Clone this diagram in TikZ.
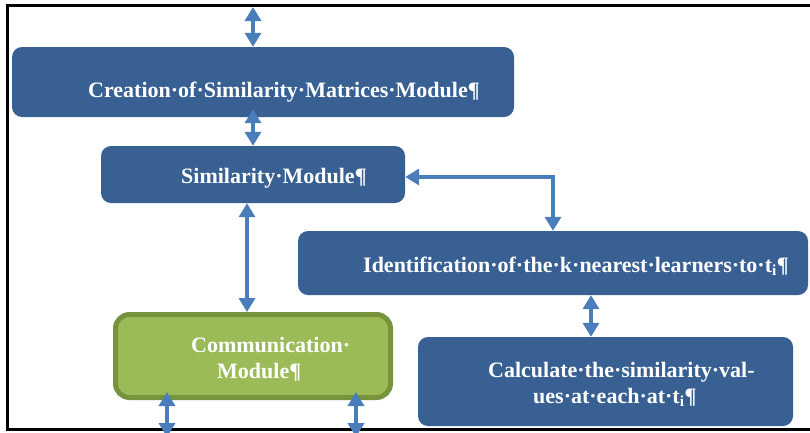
\documentclass[tikz,border=0pt]{standalone}
\usepackage{fontspec}
\setmainfont{Liberation Serif}
\usetikzlibrary{arrows.meta}

\definecolor{modblue}{RGB}{56,96,146}
\definecolor{arrblue}{RGB}{74,126,187}
\definecolor{modgreen}{RGB}{155,187,89}
\definecolor{modgreenline}{RGB}{119,147,60}

\tikzset{
  module/.style={rectangle, rounded corners=10pt, fill=modblue, draw=none,
    inner sep=0pt},
  commbox/.style={rectangle, rounded corners=14pt, fill=modgreen,
    draw=modgreenline, line width=5pt, inner sep=0pt},
  lbl/.style={anchor=base west, inner sep=0pt, text=white,
    font=\fontsize{22}{26}\selectfont\bfseries},
  link/.style={draw=arrblue, line width=4pt,
    {Triangle[width=16pt,length=14pt]}-{Triangle[width=16pt,length=14pt]}},
  frameline/.style={draw=black, line width=3pt}
}

\begin{document}
\begin{tikzpicture}[x=1pt, y=-1pt]
\useasboundingbox (0,0) rectangle (810,432);

% page frame
\draw[frameline] (815,5.5) -| (7.5,429) -- (815,429);

% module boxes
\node[module, minimum width=502pt, minimum height=70pt] (cre) at (263,82) {};
\node[module, minimum width=304pt, minimum height=57pt] (sim) at (253,174.5) {};
\node[module, minimum width=510pt, minimum height=64pt] (idn) at (553,263) {};
\node[module, minimum width=375pt, minimum height=89pt] (calc) at (605.5,381.5) {};
\node[commbox, minimum width=275pt, minimum height=83pt] (comm) at (253,356) {};

% labels
\node[lbl] (creT) at (88,97) {Creation·of·Similarity·Matrices·Module¶};
\node[lbl] (simT) at (181,183) {Similarity·Module¶};
\node[lbl] (idnT) at (363,272) {Identification·of·the·k·nearest·learners·to·t\textsubscript{i}¶};
\node[lbl] (calcTa) at (488,377) {Calculate·the·similarity·val-};
\node[lbl] (calcTb) at (533,403) {ues·at·each·at·t\textsubscript{i}¶};
\node[lbl] (commTa) at (191,352) {Communication·};
\node[lbl] (commTb) at (217,378) {Module¶};

% connector columns and free ends
\coordinate (topin) at (253,7);
\coordinate (colA) at (247,0);
\coordinate (bend) at (553,177);
\coordinate (colB) at (591,0);
\coordinate (outL) at (167,437);
\coordinate (outR) at (356,437);

% connectors
\draw[link] (topin) -- (cre.north -| topin);
\draw[link, shorten >=-8pt] (sim.north) -- (cre.south -| sim.north);
\draw[link] (sim.south -| colA) -- (comm.north -| colA);
\draw[link] (sim.east |- bend) -- (bend) -- (idn.north -| bend);
\draw[link] (idn.south -| colB) -- (calc.north -| colB);
\draw[link, shorten <=-8pt] (comm.south -| outL) -- (outL);
\draw[link, shorten <=-8pt] (comm.south -| outR) -- (outR);
\end{tikzpicture}
\end{document}
